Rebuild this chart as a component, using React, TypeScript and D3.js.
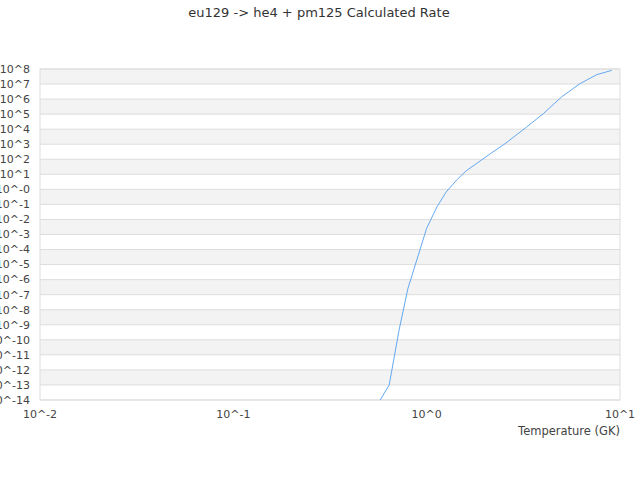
import { useEffect, useRef } from 'react'
import * as d3 from 'd3'

// temperature (GK) and calculated rate
const temperatures = [0.5, 0.64, 0.72, 0.8, 1.0, 1.13, 1.26, 1.43, 1.6, 1.89, 2.13, 2.54, 3.29, 4.01, 4.99, 6.2, 7.58, 9.06]
const rates = [5e-16, 1e-13, 4.5e-10, 2.6e-7, 2.6e-3, 6.8e-2, 6.6e-1, 4.2, 1.7e1, 7.7e1, 2.3e2, 1.07e3, 1.4e4, 1.07e5, 1.4e6, 1.05e7, 4.2e7, 8.1e7]

const yExponents = d3.range(-14, 9)
const xExponents = [-2, -1, 0, 1]

const title = 'eu129 -> he4 + pm125 Calculated Rate'
const xTitle = 'Temperature (GK)'

const expLabel = (e: number) => (e === 0 ? '10^-0' : `10^${e}`)

export default function App() {
  const ref = useRef<SVGSVGElement>(null)

  useEffect(() => {
    if (!ref.current) return
    const width = 640
    const height = 480
    const margin = { top: 69, right: 20, bottom: 80, left: 40 }
    const w = width - margin.left - margin.right
    const h = height - margin.top - margin.bottom
    const font = 'DejaVu Sans, sans-serif'

    const root = d3.select(ref.current)
    root.selectAll('*').remove()

    const x = d3.scaleLog().domain([1e-2, 1e1]).range([0, w])
    const y = d3.scaleLog().domain([1e-14, 1e8]).range([h, 0])

    root.append('text')
      .attr('x', 319)
      .attr('y', 12)
      .attr('dy', '0.35em')
      .attr('text-anchor', 'middle')
      .style('font-family', font)
      .style('font-size', '13px')
      .style('fill', '#333')
      .text(title)

    const g = root.append('g').attr('transform', `translate(${margin.left},${margin.top})`)

    g.append('defs').append('clipPath').attr('id', 'plot-clip')
      .append('rect').attr('width', w).attr('height', h)

    // alternating bands
    g.selectAll('rect.band')
      .data(yExponents.slice(0, -1).filter((e) => Math.abs(e) % 2 === 1))
      .join('rect')
      .attr('class', 'band')
      .attr('x', 0)
      .attr('width', w)
      .attr('y', (e) => y(Math.pow(10, e + 1)))
      .attr('height', (e) => y(Math.pow(10, e)) - y(Math.pow(10, e + 1)))
      .attr('fill', '#f3f3f3')

    g.selectAll('line.grid')
      .data(yExponents)
      .join('line')
      .attr('class', 'grid')
      .attr('x1', 0)
      .attr('x2', w)
      .attr('y1', (e) => y(Math.pow(10, e)))
      .attr('y2', (e) => y(Math.pow(10, e)))
      .attr('stroke', '#dddddd')

    g.append('rect')
      .attr('width', w)
      .attr('height', h)
      .attr('fill', 'none')
      .attr('stroke', '#dddddd')

    g.selectAll('text.ylab')
      .data(yExponents)
      .join('text')
      .attr('class', 'ylab')
      .attr('x', -10)
      .attr('y', (e) => y(Math.pow(10, e)))
      .attr('dy', '0.35em')
      .attr('text-anchor', 'end')
      .style('font-family', font)
      .style('font-size', '11px')
      .style('fill', '#444')
      .text(expLabel)

    g.selectAll('text.xlab')
      .data(xExponents)
      .join('text')
      .attr('class', 'xlab')
      .attr('x', (e) => x(Math.pow(10, e)))
      .attr('y', h + 14)
      .attr('dy', '0.35em')
      .attr('text-anchor', 'middle')
      .style('font-family', font)
      .style('font-size', '11px')
      .style('fill', '#444')
      .text((e) => `10^${e}`)

    g.append('text')
      .attr('x', w)
      .attr('y', h + 31)
      .attr('dy', '0.35em')
      .attr('text-anchor', 'end')
      .style('font-family', font)
      .style('font-size', '11.5px')
      .style('fill', '#444')
      .text(xTitle)

    const points = temperatures.map((t, i) => ({ t, r: rates[i] }))
    const line = d3.line<{ t: number; r: number }>()
      .x((d) => x(d.t))
      .y((d) => y(d.r))

    g.append('path')
      .datum(points)
      .attr('clip-path', 'url(#plot-clip)')
      .attr('fill', 'none')
      .attr('stroke', '#64a8f0')
      .attr('stroke-width', 1)
      .attr('d', line)
  }, [])

  return (
    <svg ref={ref} width={640} height={480} style={{ position: 'fixed', left: 0, top: 0, background: '#fff' }} />
  )
}
